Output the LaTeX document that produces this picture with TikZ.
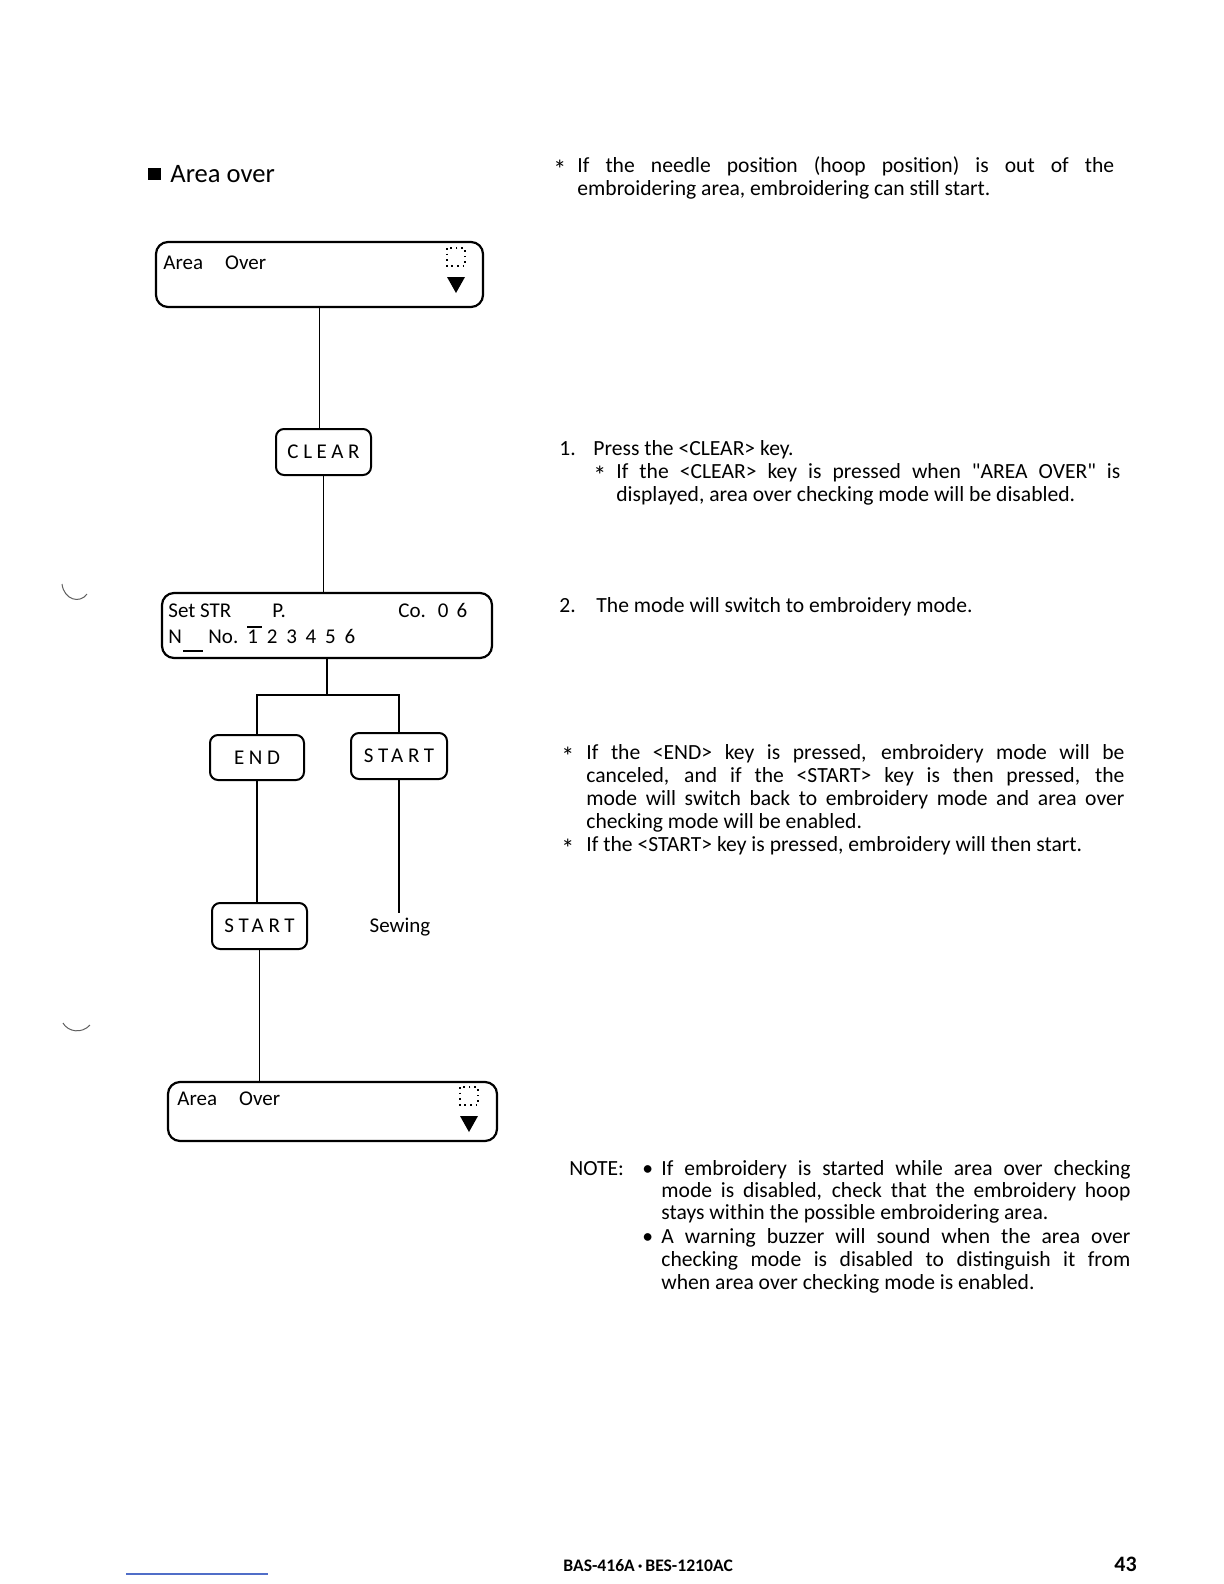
\documentclass[tikz,border=0pt]{standalone}
\usepackage{fontspec}
\setmainfont{Carlito}
\usetikzlibrary{calc}
\definecolor{scan_gray}{RGB}{95,95,95}
\definecolor{link_blue}{RGB}{80,110,200}
\newcommand{\keycaps}[1]{{\addfontfeatures{LetterSpace=22}#1}}
\newcommand{\remark}{{\fontsize{13}{13}\selectfont\raisebox{-3pt}{*}}}
\newcommand{\lcdicon}[2]{% #1 = x, #2 = y (upper left of the dotted square)
  \draw[dotted, line width=0.8pt] (#1,#2) rectangle ++(18,18);
  \fill (#1,#2+29) -- ++(18,0) -- ++(-9,16) -- cycle;
}

\begin{document}
\begin{tikzpicture}[x=0.5pt, y=-0.5pt,
    lcd/.style={draw, line width=1.1pt, rounded corners=6pt},
    keybox/.style={draw, line width=1pt, rounded corners=4pt, inner sep=0pt,
      font=\fontsize{10.5}{12}\selectfont},
    wire/.style={line width=0.9pt},
    txt/.style={inner sep=0pt, anchor=base west, font=\fontsize{10.8}{11.6}\selectfont},
    lcdtxt/.style={txt, font=\fontsize{10.5}{12}\selectfont},
    para/.style={txt, align=justify}]
  \useasboundingbox (0,0) rectangle (1224,1584);

  % heading
  \fill (148,168) rectangle (161,180);
  \node[txt, font=\fontsize{13.3}{14}\selectfont] (title) at (170,182) {Area over};

  % flow of displays and keys
  \node[lcd, minimum width=163.5pt, minimum height=32.5pt] (lcdA) at (319.5,274.5) {};
  \node[lcdtxt] (lcdAtxt) at (163,269) {Area\hspace{11pt}Over};
  \lcdicon{447}{248}

  \node[keybox, minimum width=47.5pt, minimum height=23pt] (clear) at (323.5,452) {\keycaps{CLEAR}};

  \node[lcd, minimum width=165pt, minimum height=32.5pt] (setstr) at (327,625.5) {};
  \node[lcdtxt] (setstrA) at (168,617) {Set STR};
  \node[lcdtxt] (pmark) at (272,617) {P.};
  \node[lcdtxt] (comark) at (398,617) {Co.\hspace{6pt}0\hspace{4pt}6};
  \node[lcdtxt] (nmark) at (168,643) {N};
  \node[lcdtxt] (nomark) at (208,643) {No.};
  \node[lcdtxt] (digits) at (247,643) {1\hspace{4.4pt}2\hspace{4.4pt}3\hspace{4.4pt}4\hspace{4.4pt}5\hspace{4.4pt}6};
  \draw[line width=0.7pt] (183,651) -- (203,651);
  \draw[line width=0.7pt] (247,627) -- (262,627);

  \node[keybox, minimum width=47pt, minimum height=22.5pt] (endkey) at (257,757.5) {\keycaps{END}};
  \node[keybox, minimum width=48pt, minimum height=23pt] (startA) at (399,756) {\keycaps{START}};
  \node[keybox, minimum width=47.5pt, minimum height=23pt] (startB) at (259.5,926) {\keycaps{START}};
  \node[lcdtxt, anchor=base, inner sep=2pt] (sewing) at (400,932) {Sewing};

  \node[lcd, minimum width=164.5pt, minimum height=29.5pt] (lcdB) at (332.5,1111.5) {};
  \node[lcdtxt] (lcdBtxt) at (177,1105) {Area\hspace{11pt}Over};
  \lcdicon{460}{1087}

  \coordinate (fork) at (327,695);
  \draw[wire] (lcdA.south) -- (lcdA.south |- clear.north);
  \draw[wire] (clear.south) -- (clear.south |- setstr.north);
  \draw[wire] (setstr.south) -- (fork);
  \draw[wire] (endkey.north) |- (fork) -| (startA.north);
  \draw[wire] (endkey.south) -- (endkey.south |- startB.north);
  \draw[wire] (startA.south) -- (startA.south |- sewing.north);
  \draw[wire] (startB.south) -- (startB.south |- lcdB.north);

  % explanations
  \node[txt] (starA) at (553,172) {\remark};
  \node[para, text width=268.5pt] (noteA) at (577,172) {If the needle position (hoop position) is out of the\linebreak embroidering area, embroidering can still start.};

  \node[txt] (numA) at (559,455) {1.};
  \node[txt] (stepA) at (593,455) {Press the <CLEAR> key.};
  \node[txt] (starB) at (593,478) {\remark};
  \node[para, text width=252pt] (noteB) at (616,478) {If the <CLEAR> key is pressed when \textquotedbl AREA OVER\textquotedbl\ is\linebreak displayed, area over checking mode will be disabled.};

  \node[txt] (numB) at (559,612) {2.};
  \node[txt] (stepB) at (596,612) {The mode will switch to embroidery mode.};

  \node[txt] (starC) at (561,759) {\remark};
  \node[para, text width=269pt] (noteC) at (586,759) {If the <END> key is pressed, embroidery mode will be\linebreak canceled, and if the <START> key is then pressed, the\linebreak mode will switch back to embroidery mode and area over\linebreak checking mode will be enabled.};
  \node[txt] (starD) at (561,851) {\remark};
  \node[txt] (noteD) at (586,851) {If the <START> key is pressed, embroidery will then start.};

  \node[txt] (notehead) at (569,1175) {NOTE:};
  \node[txt] (bulA) at (642,1175) {\textbullet};
  \node[para, text width=234.5pt, font=\fontsize{10.8}{11.1}\selectfont] (noteE) at (661,1175) {If embroidery is started while area over checking\linebreak mode is disabled, check that the embroidery hoop\linebreak stays within the possible embroidering area.};
  \node[txt] (bulB) at (642,1243) {\textbullet};
  \node[para, text width=234.5pt] (noteF) at (661,1243) {A warning buzzer will sound when the area over\linebreak checking mode is disabled to distinguish it from\linebreak when area over checking mode is enabled.};

  % footer
  \node[txt, font=\bfseries\fontsize{8.8}{9}\selectfont] (footer) at (563,1571) {BAS-416A\,·\,BES-1210AC};
  \node[txt, font=\bfseries\fontsize{11}{12}\selectfont] (pageno) at (1114,1571) {43};
  \draw[link_blue, line width=0.6pt] (126,1574) -- (268,1574);

  % punch marks of the scan
  \draw[scan_gray, line width=0.5pt] (62,584) .. controls (64,600) and (80,604) .. (87,594);
  \draw[scan_gray, line width=0.5pt] (63,1023) .. controls (68,1032) and (82,1034) .. (90,1025);
\end{tikzpicture}
\end{document}
